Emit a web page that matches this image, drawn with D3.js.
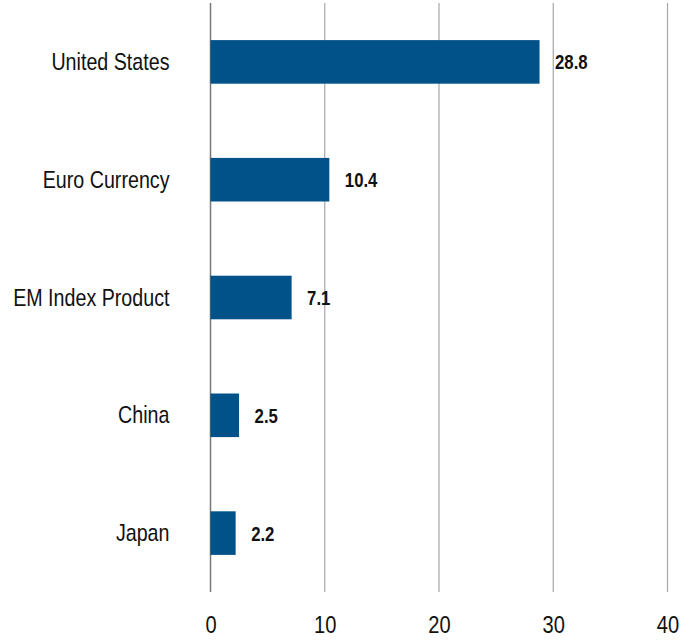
<!DOCTYPE html>
<html>
<head>
<meta charset="utf-8">
<script src="https://cdn.jsdelivr.net/npm/d3@7"></script>
<style>
  body { margin: 0; background: #fff; }
  svg text { font-family: "Liberation Sans", Arial, sans-serif; }
</style>
</head>
<body>
<svg width="695" height="642"></svg>
<script>
// data
var categories = ["United States", "Euro Currency", "EM Index Product", "China", "Japan"];
var values = [28.8, 10.4, 7.1, 2.5, 2.2];
var xTicks = [0, 10, 20, 30, 40];

var svg = d3.select("svg"),
    margin = {top: 3, right: 27.5, bottom: 50, left: 210.5},
    width = +svg.attr("width"),
    height = +svg.attr("height"),
    cWidth = width - margin.left - margin.right,
    cHeight = height - margin.top - margin.bottom;

// no narrow font installed -> squeeze text horizontally
var narrow = 0.82;

var g = svg.append("g").attr("transform", "translate(" + margin.left + "," + margin.top + ")");

var x = d3.scaleLinear().domain([0, 40]).range([0, cWidth]);
var y = d3.scaleBand().domain(categories).range([0, cHeight]).paddingInner(0.63).paddingOuter(0.315);

// gridlines
g.append("g")
    .selectAll("line")
    .data(xTicks)
    .enter()
    .append("line")
    .attr("x1", function(d) { return x(d); })
    .attr("x2", function(d) { return x(d); })
    .attr("y1", 0)
    .attr("y2", cHeight)
    .attr("stroke", function(d) { return d === 0 ? "#777" : "#a6a6a6"; })
    .attr("stroke-width", function(d) { return d === 0 ? 1.5 : 1.2; });

// x axis labels
var xAxis = g.append("g")
    .attr("transform", "translate(0," + cHeight + ")")
    .call(d3.axisBottom(x).tickValues(xTicks).tickSize(0).tickPadding(24));
xAxis.select(".domain").remove();
xAxis.selectAll("text")
    .attr("font-size", 24.5)
    .attr("fill", "#111")
    .attr("transform", "scale(" + narrow + ",1)");

// y axis labels
var yAxis = g.append("g")
    .call(d3.axisLeft(y).tickSize(0));
yAxis.select(".domain").remove();
yAxis.selectAll("text")
    .attr("font-size", 24)
    .attr("fill", "#111")
    .attr("x", -41 / narrow)
    .attr("dy", "0.34em")
    .attr("transform", "scale(" + narrow + ",1)");

// bars
g.append("g")
    .selectAll("rect")
    .data(values)
    .enter()
    .append("rect")
    .attr("x", x(0))
    .attr("y", function(d, i) { return y(categories[i]); })
    .attr("width", function(d) { return x(d) - x(0); })
    .attr("height", y.bandwidth())
    .attr("fill", "#005288");

// value labels
g.append("g")
    .selectAll("text")
    .data(values)
    .enter()
    .append("text")
    .attr("transform", function(d, i) {
      return "translate(" + (x(d) + 15.5) + "," + (y(categories[i]) + y.bandwidth() / 2) + ") scale(0.86,1)";
    })
    .attr("dy", "0.38em")
    .attr("font-size", 19.5)
    .attr("font-weight", "bold")
    .attr("fill", "#111")
    .text(function(d) { return d.toFixed(1); });
</script>
</body>
</html>
